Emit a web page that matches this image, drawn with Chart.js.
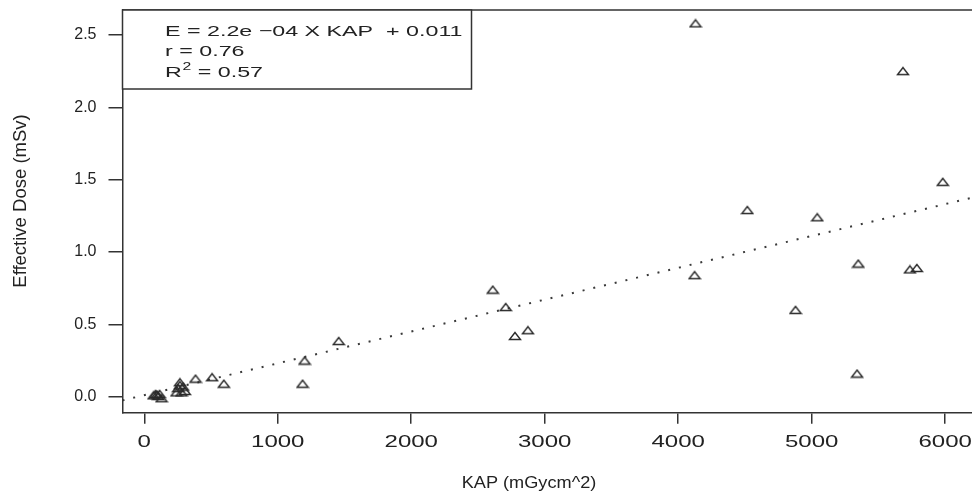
<!DOCTYPE html>
<html>
<head>
<meta charset="utf-8">
<script src="https://cdn.jsdelivr.net/npm/chart.js@4"></script>
<style>
    html, body { margin: 0; padding: 0; background: #fff; overflow: hidden; }
    #wrap { width: 980px; height: 495px; }
</style>
</head>
<body>
<div id="wrap"><canvas id="doseChart" width="980" height="495"></canvas></div>
<script>
// Dados (KAP em mGycm^2, dose efetiva em mSv)
const kap  = [70, 85, 95, 105, 115, 130, 242, 254, 267, 267, 279, 291, 304, 384, 508, 596,
              1186, 1201, 1457, 2611, 2708, 2777, 2874, 4123, 4130, 4518, 4879, 5042,
              5340, 5349, 5684, 5736, 5788, 5982];
const dose = [0.01, 0.02, 0.015, 0.005, 0.02, -0.01, 0.03, 0.06, 0.08, 0.10, 0.03, 0.07, 0.04, 0.125, 0.135, 0.09,
              0.09, 0.25, 0.385, 0.74, 0.62, 0.42, 0.46, 0.84, 2.58, 1.29, 0.60, 1.24,
              0.16, 0.92, 2.25, 0.88, 0.89, 1.485];

const xTicks = [0, 1000, 2000, 3000, 4000, 5000, 6000];
const yTicks = [0, 0.5, 1, 1.5, 2, 2.5];

// Reta de regressão
const slope = 2.2e-4;
const intercept = 0.011;
const fitLines = ['E = 2.2e \u221204 X KAP  + 0.011', 'r = 0.76'];
const r2Label = ['R', '2', ' = 0.57'];

const xMin = -163, xMax = 6216;
const yMin = -0.11, yMax = 2.672;

const font = 'Liberation Sans, Arial, sans-serif';
const stretch = 1.5; // o texto do original é esticado na horizontal

const points = kap.map((k, i) => ({ x: k, y: dose[i] }));
const fit = [xMin, xMax].map(k => ({ x: k, y: slope * k + intercept }));

// Triângulo aberto, um pouco mais largo que alto (como no original)
function makeTriangle() {
    const c = document.createElement('canvas');
    c.width = 14; c.height = 10;
    const g = c.getContext('2d');
    g.strokeStyle = '#2a2a2a';
    g.lineWidth = 1.4;
    g.beginPath();
    g.moveTo(7, 1.5);
    g.lineTo(12.5, 8.5);
    g.lineTo(1.5, 8.5);
    g.closePath();
    g.stroke();
    return c;
}

// Plugin para a moldura, a caixa da equação, os rótulos do eixo x e os títulos
const extras = {
    id: 'extras',
    afterDraw(chart) {
        const { ctx, chartArea: a } = chart;
        const xs = chart.scales.x;
        ctx.save();
        ctx.strokeStyle = '#333';
        ctx.lineWidth = 1.5;
        ctx.beginPath();
        ctx.moveTo(a.left, a.top);
        ctx.lineTo(a.right, a.top);
        ctx.lineTo(a.right, a.bottom);
        ctx.stroke();

        // caixa da equação
        ctx.fillStyle = '#fff';
        ctx.fillRect(a.left, a.top, 349, 79);
        ctx.strokeRect(a.left, a.top, 349, 79);

        ctx.fillStyle = '#222';
        ctx.textBaseline = 'alphabetic';
        ctx.save();
        ctx.translate(165, 0);
        ctx.scale(stretch, 1);
        ctx.font = '15.5px ' + font;
        ctx.fillText(fitLines[0], 0, 36);
        ctx.fillText(fitLines[1], 0, 56);
        ctx.fillText(r2Label[0], 0, 77);
        const w = ctx.measureText(r2Label[0]).width;
        ctx.font = '10.5px ' + font;
        ctx.fillText(r2Label[1], w + 0.5, 70);
        const w2 = ctx.measureText(r2Label[1]).width;
        ctx.font = '15.5px ' + font;
        ctx.fillText(r2Label[2], w + w2 + 0.5, 77);
        ctx.restore();

        // rótulos do eixo x
        ctx.font = '16px ' + font;
        ctx.textAlign = 'center';
        ctx.textBaseline = 'middle';
        xTicks.forEach(v => {
            ctx.save();
            ctx.translate(xs.getPixelForValue(v), 443);
            ctx.scale(stretch, 1);
            ctx.fillText(String(v), 0, 0);
            ctx.restore();
        });

        // títulos dos eixos
        ctx.save();
        ctx.translate(529, 483);
        ctx.scale(1.1, 1);
        ctx.font = '16.5px ' + font;
        ctx.fillText('KAP (mGycm^2)', 0, 0);
        ctx.restore();

        ctx.translate(21, 201);
        ctx.rotate(-Math.PI / 2);
        ctx.font = '18.5px "Liberation Sans Narrow", ' + font;
        ctx.fillText('Effective Dose (mSv)', 0, 0);
        ctx.restore();
    }
};

const ctx = document.getElementById('doseChart').getContext('2d');
new Chart(ctx, {
    type: 'scatter',
    data: {
        datasets: [{
            data: points,
            pointStyle: makeTriangle(),
            pointRadius: 5
        }, {
            type: 'line',
            data: fit,
            borderColor: '#3a3a3a',
            borderWidth: 2,
            borderDash: [2, 9],
            pointRadius: 0,
            fill: false
        }]
    },
    options: {
        responsive: false,
        animation: false,
        devicePixelRatio: 1,
        layout: { padding: { top: 10, right: 4, left: 0, bottom: 0 } },
        plugins: { legend: { display: false }, tooltip: { enabled: false } },
        scales: {
            x: {
                type: 'linear',
                min: xMin,
                max: xMax,
                afterBuildTicks: s => { s.ticks = xTicks.map(v => ({ value: v })); },
                afterFit: s => { s.height = 82.3; s.paddingLeft = 0; s.paddingRight = 0; },
                grid: { drawOnChartArea: false, tickLength: 11, color: '#333', lineWidth: 1.5 },
                border: { display: true, color: '#333', width: 1.5 },
                ticks: { display: false }
            },
            y: {
                type: 'linear',
                min: yMin,
                max: yMax,
                afterBuildTicks: s => { s.ticks = yTicks.map(v => ({ value: v })); },
                afterFit: s => { s.width = 122.5; s.paddingTop = 0; s.paddingBottom = 0; },
                grid: { drawOnChartArea: false, tickLength: 14, color: '#333', lineWidth: 1.5 },
                border: { display: true, color: '#333', width: 1.5 },
                ticks: { color: '#222', font: { family: font, size: 16 }, padding: 12,
                         callback: v => v.toFixed(1) }
            }
        }
    },
    plugins: [extras]
});
</script>
</body>
</html>
